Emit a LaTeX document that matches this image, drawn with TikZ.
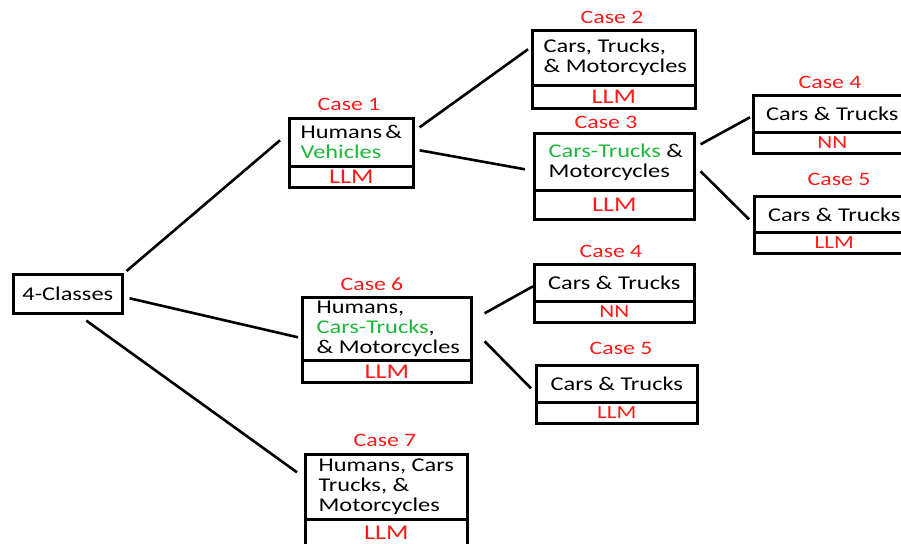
\documentclass[tikz,border=0pt]{standalone}
\usepackage{fontspec}
\setmainfont{Carlito}[FakeStretch=1.25]
\usetikzlibrary{positioning}
\definecolor{cred}{HTML}{FF1A1A}
\definecolor{cgreen}{HTML}{1DB83A}
\tikzset{
  every picture/.style={line width=2.6pt},
  part/.style={draw, line width=2.6pt, align=left, inner sep=0pt, anchor=north west,
    font=\fontsize{19.5}{20}\selectfont},
  meth/.style={draw, line width=2.6pt, inner sep=0pt, anchor=north west, text=cred,
    font=\fontsize{#1}{#1}\selectfont},
  meth/.default=21,
  caselbl/.style={text=cred, font=\fontsize{19}{20}\selectfont},
  link/.style={draw, line width=2.6pt},
}
\begin{document}
\begin{tikzpicture}[x=1pt, y=-1pt]
  \clip (0,0) rectangle (901,543);
  \fill[white] (0,0) rectangle (901,543);
  % root
  \node[part, minimum width=109pt, minimum height=39pt] (cls) at (12,273) {4-Classes};
  % first level
  \node[caselbl] at (349,104) {Case 1};
  \node[part, minimum width=124pt, minimum height=48pt] (c1t) at (288,117) {Humans\,\&\\\textcolor{cgreen}{Vehicles}};
  \node[meth, minimum width=124pt, minimum height=21pt] (c1m) at (288,165) {LLM};
  \node[caselbl] at (372,284) {Case 6};
  \node[part, minimum width=169pt, minimum height=63pt] (c6t) at (301,296) {\hspace*{3pt}Humans,\\\hspace*{3pt}\textcolor{cgreen}{Cars-Trucks},\\\hspace*{3pt}\& Motorcycles};
  \node[meth, minimum width=169pt, minimum height=22pt] (c6m) at (301,359) {LLM};
  \node[caselbl] at (385,440) {Case 7};
  \node[part, minimum width=162pt, minimum height=65pt] (c7t) at (304,453) {Humans, Cars\\Trucks, \&\\Motorcycles};
  \node[meth, minimum width=162pt, minimum height=28pt, text depth=2pt] (c7m) at (304,518) {LLM};
  % second level
  \node[caselbl] at (612,17) {Case 2};
  \node[part, minimum width=163pt, minimum height=55pt] (c2t) at (531,29) {\hspace*{3pt}Cars, Trucks,\\\hspace*{3pt}\& Motorcycles};
  \node[meth, minimum width=163pt, minimum height=23pt] (c2m) at (531,84) {LLM};
  \node[caselbl] at (606,122) {Case 3};
  \node[part, minimum width=160pt, minimum height=57pt] (c3t) at (533,132) {\hspace*{3pt}\textcolor{cgreen}{Cars-Trucks} \&\\\hspace*{3pt}Motorcycles};
  \node[meth, minimum width=160pt, minimum height=29pt] (c3m) at (533,189) {LLM};
  \node[caselbl] at (611,251) {Case 4};
  \node[part, minimum width=160pt, minimum height=37pt] (c4bt) at (533,263) {Cars \& Trucks};
  \node[meth=18.5, minimum width=160pt, minimum height=21pt] (c4bm) at (533,300) {NN};
  \node[caselbl] at (621,348) {Case 5};
  \node[part, minimum width=161pt, minimum height=37pt] (c5bt) at (535,364) {Cars \& Trucks};
  \node[meth=18.5, minimum width=161pt, minimum height=21pt] (c5bm) at (535,401) {LLM};
  % third level
  \node[caselbl] at (830,82) {Case 4};
  \node[part, minimum width=158pt, minimum height=37pt] (c4at) at (752,94) {Cars \& Trucks};
  \node[meth=18.5, minimum width=158pt, minimum height=21pt] (c4am) at (752,131) {NN};
  \node[caselbl] at (839,179) {Case 5};
  \node[part, minimum width=160pt, minimum height=36pt] (c5at) at (753,195) {Cars \& Trucks};
  \node[meth=18.5, minimum width=160pt, minimum height=21pt] (c5am) at (753,231) {LLM};
  % connectors
  \draw[link] ([shift={(3,-2)}]cls.north east) -- ([shift={(-8,-2)}]c1t.west);
  \draw[link] ([shift={(6,4.5)}]cls.east) -- ([shift={(-3,8.5)}]c6t.west);
  \draw[link] ([shift={(18.5,6)}]cls.south) -- ([shift={(-7,-14.5)}]c7t.west);
  \draw[link] ([shift={(5,-15)}]c1t.east) -- ([shift={(-3,-8.5)}]c2t.west);
  \draw[link] ([shift={(5,8)}]c1t.east) -- ([shift={(-8,7.5)}]c3t.west);
  \draw[link] ([shift={(5,-17.5)}]c3t.east) -- ([shift={(-2,3.5)}]c4at.west);
  \draw[link] ([shift={(5,9.5)}]c3t.east) -- ([shift={(-4,5)}]c5at.west);
  \draw[link] ([shift={(12,-15.5)}]c6t.east) -- ([shift={(0,3.5)}]c4bt.west);
  \draw[link] ([shift={(12,12.5)}]c6t.east) -- ([shift={(-4,4.5)}]c5bt.west);
\end{tikzpicture}
\end{document}
